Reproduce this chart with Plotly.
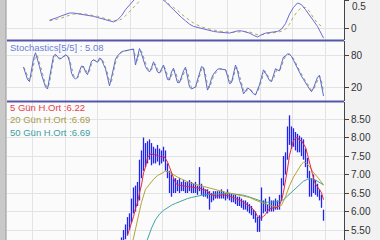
import plotly.graph_objects as go
from plotly.subplots import make_subplots
import pandas as pd

# ---------------- data (day index 0..150) ----------------
days = list(range(151))
price_days = list(range(48, 151))

p_open = [4.95,5.1,5.2,5.4,5.5,5.6,5.9,6.2,6.1,6.6,
          6.4,7.2,7.3,7.7,7.4,7.7,7.5,7.6,7.4,7.55,
          7.45,7.5,7.4,7.6,7.2,7.0,6.8,6.65,6.8,6.6,
          6.75,6.7,6.65,6.75,6.6,6.7,6.65,6.6,6.7,6.55,
          6.6,6.7,6.55,6.5,6.55,6.45,6.3,6.45,6.4,6.5,
          6.4,6.45,6.5,6.4,6.45,6.4,6.35,6.4,6.3,6.35,
          6.25,6.3,6.2,6.15,6.2,6.1,6.05,6.0,5.9,5.8,
          5.6,5.8,6.05,6.1,6.05,6.1,6.05,6.15,6.1,6.15,
          6.1,6.35,6.8,7.2,7.5,7.9,8.2,7.9,8.1,7.8,
          8.0,7.8,7.9,7.6,7.4,7.0,6.7,6.6,6.8,6.6,
          6.55,6.4,5.9]
p_high = [5.15,5.3,5.5,5.65,5.85,5.95,6.35,6.65,6.7,6.8,
          7.4,7.65,8.0,7.85,7.9,7.95,7.85,7.75,7.7,7.8,
          7.7,7.65,7.75,7.65,7.3,7.1,7.0,6.9,6.9,6.85,
          6.9,6.8,6.85,6.8,6.8,6.85,6.8,6.75,6.8,6.7,
          7.2,6.75,6.65,6.6,6.6,6.55,6.5,6.55,6.55,6.55,
          6.55,6.6,6.55,6.5,6.6,6.5,6.5,6.45,6.45,6.4,
          6.4,6.35,6.3,6.3,6.25,6.2,6.15,6.05,6.0,5.85,
          5.9,6.65,6.3,6.35,6.2,6.4,6.3,6.3,6.35,6.3,
          6.45,6.9,7.5,7.6,8.3,8.6,8.3,8.25,8.15,8.1,
          8.05,8.0,7.95,7.7,7.45,7.1,6.9,7.0,6.85,6.75,
          6.6,6.45,6.05]
p_low = [4.85,5.0,5.1,5.25,5.35,5.5,5.7,5.95,6.0,6.15,
         6.3,6.9,7.1,7.2,7.3,7.4,7.25,7.3,7.3,7.35,
         7.25,7.3,7.35,7.1,6.9,6.5,6.4,6.5,6.5,6.55,
         6.5,6.55,6.55,6.5,6.5,6.55,6.5,6.5,6.5,6.45,
         6.55,6.45,6.4,6.4,6.35,6.05,6.25,6.3,6.35,6.35,
         6.35,6.35,6.35,6.3,6.35,6.3,6.25,6.25,6.2,6.15,
         6.15,6.1,6.05,6.05,6.0,5.95,5.9,5.8,5.7,5.45,
         5.45,5.75,5.95,6.0,5.95,6.0,6.0,6.0,6.05,6.05,
         6.05,6.3,6.7,7.0,7.4,7.8,7.7,7.75,7.65,7.6,
         7.6,7.5,7.4,7.2,6.9,6.4,6.4,6.5,6.45,6.4,
         6.3,6.1,5.75]
p_close = [5.1,5.2,5.4,5.5,5.6,5.9,6.2,6.1,6.6,6.4,
           7.2,7.3,7.7,7.4,7.7,7.5,7.6,7.4,7.55,7.45,
           7.5,7.4,7.6,7.2,7.0,6.8,6.65,6.8,6.6,6.75,
           6.7,6.65,6.75,6.6,6.7,6.65,6.6,6.7,6.55,6.6,
           6.7,6.55,6.5,6.55,6.45,6.3,6.45,6.4,6.5,6.4,
           6.45,6.5,6.4,6.45,6.4,6.35,6.4,6.3,6.35,6.25,
           6.3,6.2,6.15,6.2,6.1,6.05,6.0,5.9,5.8,5.6,
           5.8,6.05,6.1,6.05,6.1,6.05,6.15,6.1,6.15,6.1,
           6.35,6.8,7.2,7.5,7.9,8.2,7.9,8.1,7.8,8.0,
           7.8,7.9,7.6,7.4,7.0,6.7,6.6,6.8,6.6,6.55,
           6.4,6.2,5.85]

ma20_days = [54,55,57,59,61,63,65,67,69,71,73,75,77,79,81,83,85,87,89,91,93,95,97,99,101,
             103,105,107,109,111,113,115,117,119,121,123,125,127,129,131,133,135,137,139,140,
             141,143,145,147,149,150]
ma20 = [5.1,5.28,5.77,6.25,6.6,6.75,6.87,6.97,7.04,7.09,7.06,6.99,6.93,6.88,6.82,6.78,6.75,6.72,
        6.69,6.65,6.62,6.6,6.57,6.54,6.52,6.5,6.48,6.46,6.44,6.41,6.38,6.33,6.28,6.24,6.21,6.17,
        6.14,6.12,6.17,6.4,6.7,6.93,7.12,7.28,7.33,7.32,7.22,7.05,6.93,6.8,6.72]

ma50_days = [61,62,64,66,68,70,72,74,76,78,80,82,84,86,88,90,92,94,96,100,104,108,110,112,114,
             116,118,120,122,124,126,128,130,132,134,136,138,140,142,144,146,148,150]
ma50 = [5.1,5.25,5.55,5.78,5.93,6.03,6.11,6.17,6.22,6.27,6.31,6.35,6.38,6.41,6.43,6.45,6.46,6.47,
        6.48,6.48,6.48,6.46,6.44,6.41,6.37,6.32,6.28,6.26,6.25,6.25,6.26,6.28,6.32,6.42,6.52,6.63,
        6.74,6.82,6.87,6.88,6.85,6.79,6.72]

stoch_k = [59,48,36,32,55,75,86,74,60,45,32,22,18,40,65,80,83,78,74,76,
           80,82,80,70,48,40,37,40,52,61,60,50,45,58,70,73,70,68,76,74,
           64,56,40,24,40,60,74,80,85,88,89,90,90,91,92,93,63,80,94,84,
           72,60,54,50,58,69,60,50,48,55,63,50,36,35,50,57,45,30,30,42,
           52,59,42,22,18,20,22,35,50,60,58,35,16,24,38,46,50,55,56,55,
           54,54,42,28,30,50,63,52,34,24,9,14,20,18,13,9,7,16,26,40,
           54,48,40,34,32,42,56,54,52,66,78,80,84,83,79,72,64,56,48,42,
           36,31,24,18,13,20,32,40,44,22,5]

macd_days = list(range(13, 150, 2)) + [150]
macd = [0.14,0.16,0.19,0.22,0.25,0.27,0.27,0.26,0.25,0.24,
        0.23,0.21,0.19,0.17,0.15,0.13,0.11,0.15,0.22,0.33,
        0.43,0.53,0.62,0.7,0.74,0.75,0.72,0.64,0.53,0.47,
        0.4,0.32,0.25,0.19,0.13,0.07,0.03,0.01,-0.01,-0.03,
        -0.04,-0.06,-0.07,-0.08,-0.09,-0.09,-0.07,-0.05,-0.05,-0.07,
        -0.09,-0.13,-0.16,-0.12,-0.09,-0.08,-0.07,-0.06,-0.02,0.08,
        0.25,0.37,0.45,0.42,0.33,0.22,0.13,0.03,-0.12,-0.18]
macd_signal = [0.13,0.14,0.16,0.18,0.21,0.23,0.25,0.26,0.26,0.25,
               0.24,0.23,0.21,0.19,0.17,0.15,0.13,0.13,0.16,0.22,
               0.3,0.38,0.46,0.55,0.62,0.67,0.68,0.65,0.56,0.48,
               0.42,0.37,0.32,0.25,0.19,0.14,0.09,0.05,0.02,0.0,
               -0.02,-0.03,-0.05,-0.06,-0.07,-0.08,-0.08,-0.07,-0.06,-0.06,
               -0.07,-0.09,-0.12,-0.12,-0.11,-0.1,-0.09,-0.08,-0.06,-0.02,
               0.07,0.2,0.3,0.37,0.37,0.3,0.18,0.09,0.03,0.0]

price_ticks = [5.5, 6.0, 6.5, 7.0, 7.5, 8.0, 8.5]
stoch_ticks = [20, 80]
macd_ticks = [0, 0.5]
legend_texts = ["5 Gün H.Ort :6.22", "20 Gün H.Ort :6.69", "50 Gün H.Ort :6.69"]
stoch_text = "Stochastics[5/5] : 5.08"

# derived indicators
ma5 = pd.Series(p_close).rolling(5).mean().tolist()
stoch_d = pd.Series(stoch_k).rolling(2, min_periods=1).mean().tolist()

# high-low bar segments, built from the price arrays
bar_x, bar_y = [], []
for d, lo, hi in zip(price_days, p_low, p_high):
    bar_x += [d, d, None]
    bar_y += [lo, hi, None]

# ---------------- figure ----------------
W, H = 380, 240
ML, MR = 7, 36
PW = W - ML - MR

def fy(px):
    return 1 - px / H

def fx(px):
    return (px - ML) / PW

fig = make_subplots(rows=3, cols=1, shared_xaxes=True, vertical_spacing=0.0)

fig.add_trace(go.Scatter(x=macd_days, y=macd_signal, mode="lines",
                         line=dict(color="#b0aa55", width=1, dash="dot")), row=1, col=1)
fig.add_trace(go.Scatter(x=macd_days, y=macd, mode="lines",
                         line=dict(color="#6a6ad8", width=1)), row=1, col=1)

fig.add_trace(go.Scatter(x=days, y=stoch_d, mode="lines",
                         line=dict(color="#9a9a80", width=1, dash="dot")), row=2, col=1)
fig.add_trace(go.Scatter(x=days, y=stoch_k, mode="lines",
                         line=dict(color="#5a6ac8", width=1)), row=2, col=1)

fig.add_trace(go.Scatter(x=bar_x, y=bar_y, mode="lines", connectgaps=False,
                         line=dict(color="#2323f0", width=1.3)), row=3, col=1)
fig.add_trace(go.Scatter(x=ma50_days, y=ma50, mode="lines",
                         line=dict(color="#3fa3a0", width=1)), row=3, col=1)
fig.add_trace(go.Scatter(x=ma20_days, y=ma20, mode="lines",
                         line=dict(color="#b5a232", width=1)), row=3, col=1)
fig.add_trace(go.Scatter(x=price_days, y=ma5, mode="lines",
                         line=dict(color="#e8283c", width=1)), row=3, col=1)

grid_x = [4.5 + 16.25 * k for k in range(10)]
tickfont = dict(family="Liberation Sans, Arial, sans-serif", size=10, color="#333333")

for r in (1, 2, 3):
    fig.update_xaxes(range=[-8.25, 160.25], tickvals=grid_x, showticklabels=False,
                     showgrid=True, gridcolor="#e3e3e3", gridwidth=1, zeroline=False,
                     ticks="", showline=False, row=r, col=1)

common_y = dict(side="right", showgrid=True, gridcolor="#e3e3e3", zeroline=False,
                ticks="outside", ticklen=4, tickcolor="#444444", showline=True,
                linecolor="#444444", linewidth=1, tickfont=tickfont)

fig.update_layout(
    yaxis=dict(domain=[fy(40), 1.0], range=[-0.214, 0.503], tickvals=macd_ticks,
               ticktext=["0", ""], **common_y),
    yaxis2=dict(domain=[fy(101), fy(41)], range=[-4.4, 108], tickvals=stoch_ticks, **common_y),
    yaxis3=dict(domain=[0.0, fy(102)], range=[5.23, 8.96], tickvals=price_ticks,
                tickformat=".2f", **common_y),
)

shapes = [
    dict(type="rect", xref="paper", yref="paper", x0=fx(0), x1=fx(6), y0=0, y1=1,
         fillcolor="#c9c9c9", line=dict(width=0), layer="above"),
    dict(type="line", xref="paper", yref="paper", x0=fx(6), x1=fx(6), y0=0, y1=1,
         line=dict(color="#9a9a9a", width=1)),
    dict(type="line", xref="paper", yref="paper", x0=0, x1=1, y0=fy(40.5), y1=fy(40.5),
         line=dict(color="#5555aa", width=2)),
    dict(type="line", xref="paper", yref="paper", x0=0, x1=1, y0=fy(101.5), y1=fy(101.5),
         line=dict(color="#5555aa", width=2)),
]

lab_font = "Liberation Sans, Arial, sans-serif"
annotations = [
    dict(text=stoch_text, xref="paper", yref="paper", x=fx(8), y=fy(47.5),
         xanchor="left", yanchor="middle", showarrow=False,
         font=dict(family=lab_font, size=9.5, color="#6a7ed8")),
    # top tick label of the first panel, kept just inside the page edge
    dict(text="0.5", xref="paper", yref="paper", x=fx(351), y=1.0,
         xanchor="left", yanchor="top", showarrow=False, borderpad=0,
         font=tickfont),
]
leg_colors = ["#e8404a", "#a89c4c", "#3aa0a0"]
leg_y = [107, 119.5, 132]
for t, c, yy in zip(legend_texts, leg_colors, leg_y):
    annotations.append(dict(text=t, xref="paper", yref="paper", x=fx(8), y=fy(yy),
                            xanchor="left", yanchor="middle", showarrow=False,
                            font=dict(family=lab_font, size=9.5, color=c)))

fig.update_layout(
    width=W, height=H, margin=dict(l=ML, r=MR, t=0, b=0),
    paper_bgcolor="#f2f2f2", plot_bgcolor="#fbfbfb",
    showlegend=False, hovermode=False,
    shapes=shapes, annotations=annotations,
)

fig.write_html("out.html", config=dict(displayModeBar=False))
